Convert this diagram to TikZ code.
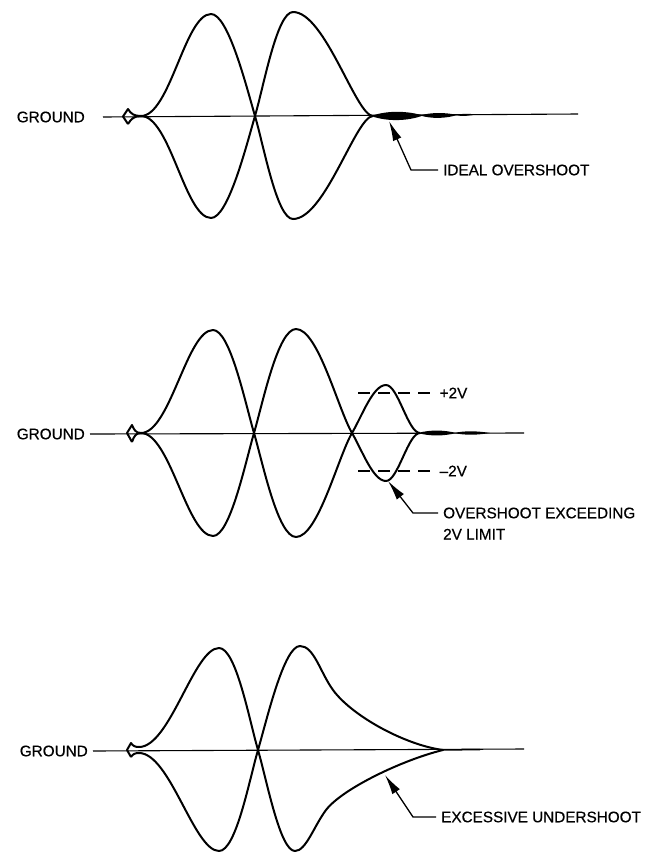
\documentclass[tikz,border=0pt]{standalone}
\usepackage{fontspec}
\setmainfont{Liberation Sans}
\newfontfamily\lblfont{Liberation Sans}[Ligatures=TeX, FakeBold=0.5]
\usetikzlibrary{positioning,arrows.meta}

\tikzset{
  wave/.style={line width=2pt, line join=round},
  gline/.style={line width=1.1pt},
  lbl/.style={font=\lblfont\fontsize{15.3}{19}\selectfont, inner sep=5pt},
  pointer/.style={line width=1.3pt, -{Latex[length=20pt,width=9pt]}},
  limitline/.style={line width=1.4pt, dash pattern=on 12pt off 8pt},
}

\begin{document}
\begin{tikzpicture}[x=1pt, y=-1pt]
  \useasboundingbox (0,0) rectangle (648,852);

  % ideal overshoot
  \node[lbl, anchor=east] (gnd1) at (90,117) {GROUND};
  \coordinate (g1l) at (103,117);
  \coordinate (g1r) at (578,114);
  \draw[gline] (g1l) -- (g1r);

  \draw[wave] (128,124) -- (123,116.5) -- (128,109)
    .. controls (131,114) and (134,116) .. (141,116)
    .. controls (170,116) and (185,14) .. (211,14)
    .. controls (228,14) and (246,85) .. (255,116)
    .. controls (264,147) and (277,219) .. (293,219)
    .. controls (325,219) and (356,116) .. (373,116);
  \draw[wave] (128,124)
    .. controls (131,119) and (134,116) .. (141,116)
    .. controls (170,116) and (185,218) .. (211,218)
    .. controls (228,218) and (246,147) .. (255,116)
    .. controls (264,85) and (277,12) .. (293,12)
    .. controls (325,12) and (356,116) .. (373,116);
  \fill (371,116) .. controls (388,110) and (408,111) .. (423,115.5)
    .. controls (408,121) and (388,122) .. cycle;
  \fill (420,115.5) .. controls (432,112) and (446,112.5) .. (457,115)
    .. controls (446,118.5) and (432,119) .. cycle;
  \fill (455,115) .. controls (462,113.5) and (468,113.5) .. (476,114.5)
    .. controls (468,116) and (462,116.5) .. cycle;

  \coordinate (tip1) at (389,121);
  \coordinate (bend1) at (411,170);
  \node[lbl, anchor=west] (ideal) at (438,170) {IDEAL OVERSHOOT};
  \draw[pointer] (ideal.west) -- (bend1) -- (tip1);

  % overshoot past the 2V limit
  \node[lbl, anchor=east] (gnd2) at (90,434) {GROUND};
  \coordinate (g2r) at (524,433);
  \draw[gline] (gnd2.east) -- (g2r);

  \draw[wave] (132,442) -- (127,433) -- (132,425)
    .. controls (134,430) and (136,433) .. (141,433)
    .. controls (170,433) and (187,330) .. (213,330)
    .. controls (230,330) and (245,402) .. (254,433)
    .. controls (263,464) and (278,537) .. (296,537)
    .. controls (318,537) and (338,457) .. (352,433)
    .. controls (362,416) and (373,385) .. (386,385)
    .. controls (398,385) and (408,433) .. (420,433);
  \draw[wave] (132,442)
    .. controls (134,436) and (136,433) .. (141,433)
    .. controls (170,433) and (187,536) .. (213,536)
    .. controls (230,536) and (245,464) .. (254,433)
    .. controls (263,402) and (278,329) .. (296,329)
    .. controls (318,329) and (338,409) .. (352,433)
    .. controls (362,450) and (373,481) .. (386,481)
    .. controls (398,481) and (408,433) .. (420,433);
  \fill (418,433) .. controls (430,429.5) and (445,430) .. (456,433)
    .. controls (445,436) and (430,436.5) .. cycle;
  \fill (454,433) .. controls (465,430.5) and (478,431) .. (490,433)
    .. controls (478,435) and (465,435.5) .. cycle;

  \draw[limitline] (358,393) -- (431,393) node[lbl, right=3pt] (plus) {+2V};
  \draw[limitline] (358,471) -- (431,471) node[lbl, right=3pt] (minus) {--2V};

  \coordinate (tip2) at (388,481);
  \coordinate (bend2) at (413,513);
  \node[lbl, anchor=west] (exceed) at (438,513) {OVERSHOOT EXCEEDING};
  \node[lbl, below=0pt of exceed.south west, anchor=north west] (limit) {2V LIMIT};
  \draw[pointer] (exceed.west) -- (bend2) -- (tip2);

  % excessive undershoot
  \node[lbl, anchor=east] (gnd3) at (93,751) {GROUND};
  \coordinate (g3r) at (524,749);
  \draw[gline] (gnd3.east) -- (g3r);

  \draw[wave] (131,757) -- (127,750) -- (131,743)
    .. controls (133,746) and (135,747) .. (139,747)
    .. controls (170,747) and (194,648) .. (219,648)
    .. controls (236,648) and (249,719) .. (258,750)
    .. controls (267,781) and (280,851) .. (295,851)
    .. controls (306,851) and (314,826) .. (326,810)
    .. controls (342,789) and (402,760) .. (443,750);
  \draw[wave] (131,757)
    .. controls (133,754) and (135,753) .. (139,753)
    .. controls (170,753) and (194,851) .. (219,851)
    .. controls (236,851) and (249,781) .. (258,750)
    .. controls (267,719) and (284,646) .. (300,646)
    .. controls (314,646) and (320,672) .. (333,690)
    .. controls (352,716) and (405,745) .. (443,750);
  \draw[line width=1.5pt] (443,750) -- (480,749.5);

  \coordinate (tip3) at (385,775);
  \coordinate (bend3) at (413,817);
  \node[lbl, anchor=west] (under) at (436,817) {EXCESSIVE UNDERSHOOT};
  \draw[pointer] (under.west) -- (bend3) -- (tip3);
\end{tikzpicture}
\end{document}
